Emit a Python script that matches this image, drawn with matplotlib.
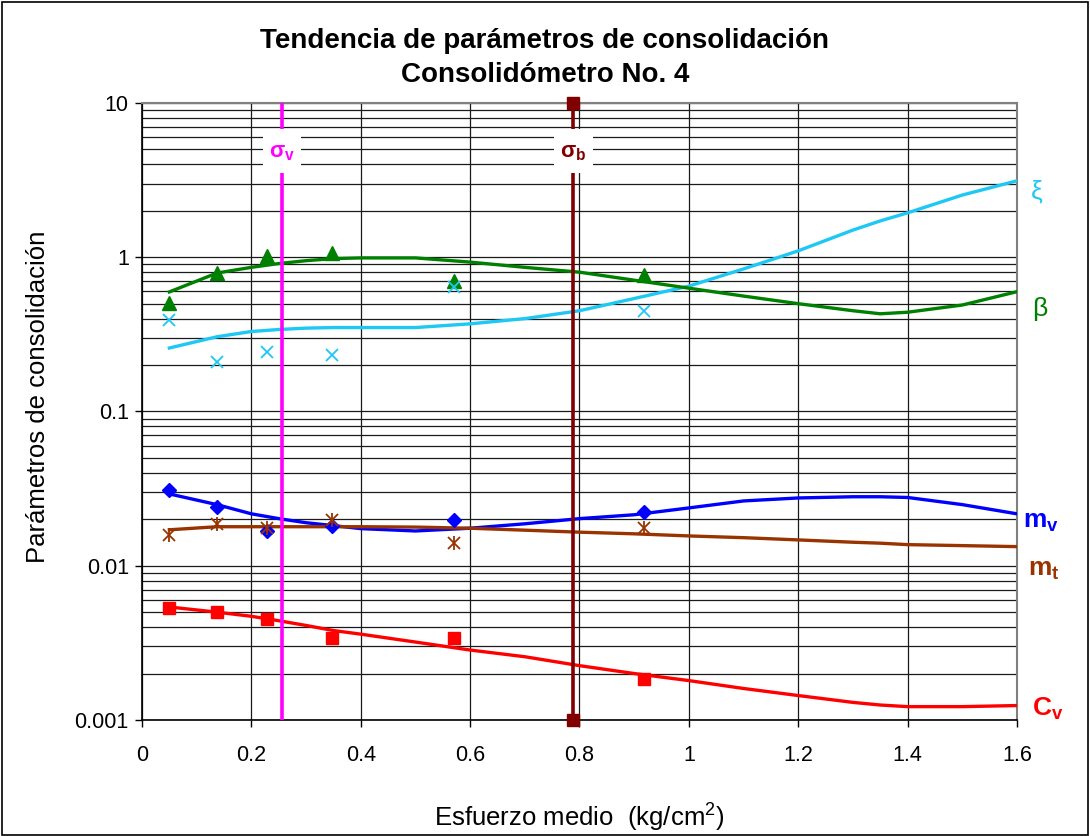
import matplotlib
matplotlib.use("Agg")
import matplotlib.pyplot as plt
from matplotlib.patches import Rectangle

plt.rcParams['font.family'] = ['Liberation Sans', 'DejaVu Sans']
plt.rcParams['mathtext.fontset'] = 'custom'
plt.rcParams['mathtext.rm'] = 'Liberation Sans'
plt.rcParams['mathtext.bf'] = 'Liberation Sans:bold'
plt.rcParams['mathtext.it'] = 'Liberation Sans:italic'

# ---- data ----
x_pts = [0.05, 0.137, 0.228, 0.347, 0.571, 0.918]
beta_pts = [0.505, 0.79, 1.02, 1.06, 0.70, 0.77]
xi_pts = [0.39, 0.21, 0.243, 0.232, 0.64, 0.45]
mv_pts = [0.031, 0.024, 0.0168, 0.0181, 0.0198, 0.0223]
mt_pts = [0.0158, 0.0187, 0.0175, 0.0198, 0.0140, 0.0175]
cv_pts = [0.0053, 0.0050, 0.0045, 0.0034, 0.0034, 0.00185]

x_fit = [0.05, 0.137, 0.2, 0.25, 0.3, 0.35, 0.4, 0.5, 0.6, 0.7, 0.8, 0.9,
         1.0, 1.1, 1.2, 1.3, 1.35, 1.4, 1.5, 1.6]
beta_fit = [0.596, 0.79, 0.86, 0.91, 0.95, 0.98, 0.99, 0.99, 0.93, 0.86, 0.80, 0.71,
            0.63, 0.56, 0.50, 0.45, 0.43, 0.44, 0.49, 0.598]
xi_fit = [0.258, 0.305, 0.33, 0.34, 0.347, 0.35, 0.35, 0.35, 0.37, 0.40, 0.45, 0.54,
          0.65, 0.84, 1.10, 1.50, 1.72, 1.94, 2.53, 3.13]
mv_fit = [0.0292, 0.0249, 0.0217, 0.0202, 0.0190, 0.0182, 0.0174, 0.0168, 0.0175, 0.0187,
          0.0202, 0.0214, 0.0237, 0.0263, 0.0275, 0.0280, 0.0280, 0.0277, 0.0249, 0.0217]
mt_fit = [0.0171, 0.0179, 0.0179, 0.0179, 0.0179, 0.0179, 0.0179, 0.0178, 0.0175, 0.0170,
          0.0165, 0.0161, 0.0156, 0.0152, 0.0147, 0.0142, 0.0140, 0.0137, 0.0135, 0.0133]
cv_fit = [0.0054, 0.0050, 0.0047, 0.0044, 0.0041, 0.0038, 0.0036, 0.0032, 0.00284, 0.00257,
          0.00225, 0.0020, 0.0018, 0.0016, 0.00144, 0.0013, 0.00125, 0.00122, 0.00122, 0.00124]

sigma_v = 0.256
sigma_b = 0.789

xticks = [0, 0.2, 0.4, 0.6, 0.8, 1, 1.2, 1.4, 1.6]
xticklabels = ['0', '0.2', '0.4', '0.6', '0.8', '1', '1.2', '1.4', '1.6']
yticks = [0.001, 0.01, 0.1, 1, 10]
yticklabels = ['0.001', '0.01', '0.1', '1', '10']

c_xi = '#1EC8F5'
c_beta = '#008000'
c_mv = '#0000FF'
c_mt = '#993300'
c_cv = '#FF0000'
c_sv = '#FF00FF'
c_sb = '#800000'

fig = plt.figure(figsize=(10.9, 8.36), dpi=100)
fig.patches.append(Rectangle((0.002, 0.001), 0.996, 0.997, transform=fig.transFigure,
                             fill=False, edgecolor='black', lw=1.2))
ax = fig.add_axes([0.1303, 0.1388, 0.933 - 0.1303, 0.8768 - 0.1388])
ax.set_yscale('log')
ax.set_xlim(0, 1.6)
ax.set_ylim(0.001, 10)

ax.grid(which='major', axis='both', color='#1a1a1a', lw=0.9)
ax.grid(which='minor', axis='y', color='#1a1a1a', lw=0.9)
ax.set_axisbelow(True)

lw = 2.4
ax.plot(x_fit, xi_fit, color=c_xi, lw=lw, zorder=3)
ax.plot(x_fit, beta_fit, color=c_beta, lw=lw, zorder=3)
ax.plot(x_fit, mv_fit, color=c_mv, lw=lw, zorder=3)
ax.plot(x_fit, mt_fit, color=c_mt, lw=lw, zorder=3)
ax.plot(x_fit, cv_fit, color=c_cv, lw=lw, zorder=3)

ax.plot(x_pts, beta_pts, ls='none', marker='^', ms=10, color=c_beta, zorder=4)
ax.plot(x_pts, xi_pts, ls='none', marker='x', ms=9, mew=1.3, color=c_xi, zorder=4)
ax.plot(x_pts, mv_pts, ls='none', marker='D', ms=7, color=c_mv, zorder=4)
ax.plot(x_pts, mt_pts, ls='none', marker='x', ms=9, mew=1.3, color=c_mt, zorder=4)
ax.plot(x_pts, mt_pts, ls='none', marker='|', ms=10, mew=1.3, color=c_mt, zorder=4)
ax.plot(x_pts, cv_pts, ls='none', marker='s', ms=8, color=c_cv, zorder=4)

ax.plot([sigma_v, sigma_v], [0.001, 10], color=c_sv, lw=2.6, zorder=5)
ax.plot([sigma_b, sigma_b], [0.001, 10], color=c_sb, lw=2.6, marker='s', ms=8,
        zorder=5, clip_on=False)

# white label boxes over the vertical lines
box_w = 0.07
box_lo, box_hi = 3.52, 6.78
for xs, txt, col in [(sigma_v, r'$\mathbf{\sigma}_\mathbf{v}$', c_sv),
                     (sigma_b, r'$\mathbf{\sigma}_\mathbf{b}$', c_sb)]:
    ax.add_patch(Rectangle((xs - box_w / 2, box_lo), box_w, box_hi - box_lo,
                           facecolor='white', edgecolor='none', zorder=6))
    ax.text(xs, 4.75, txt, color=col, fontsize=16, ha='center', va='center', zorder=7)

lab = dict(fontsize=19, ha='left', va='center', clip_on=False)
ax.text(1.625, 2.65, 'ξ', color=c_xi, **lab)
ax.text(1.628, 0.46, 'β', color=c_beta, **lab)
ax.text(1.611, 0.0192, r'$\mathbf{m}_\mathbf{v}$', color=c_mv, **lab)
ax.text(1.620, 0.0094, r'$\mathbf{m}_\mathbf{t}$', color=c_mt, **lab)
ax.text(1.627, 0.00118, r'$\mathbf{C}_\mathbf{v}$', color=c_cv, **lab)

ax.set_xticks(xticks)
ax.set_xticklabels(xticklabels)
ax.set_yticks(yticks)
ax.set_yticklabels(yticklabels)
ax.yaxis.set_minor_formatter(matplotlib.ticker.NullFormatter())
ax.tick_params(axis='both', which='major', labelsize=15.5, length=5, direction='out',
               width=1)
ax.tick_params(axis='y', pad=4.5)
ax.tick_params(axis='x', pad=13)
ax.tick_params(axis='y', which='minor', length=0)

for s in ['top', 'right']:
    ax.spines[s].set_color('#808080')
    ax.spines[s].set_linewidth(1.5)
for s in ['left', 'bottom']:
    ax.spines[s].set_color('black')
    ax.spines[s].set_linewidth(1.2)

ax.set_ylabel('Parámetros de consolidación', fontsize=18.5, va='center')
ax.yaxis.set_label_coords(-0.119, 0.5235)
ax.set_xlabel('Esfuerzo medio  (kg/cm$^2$)', fontsize=18.5, va='center')
ax.xaxis.set_label_coords(0.5, -0.158)
fig.text(0.5, 1 - 41 / 836, 'Tendencia de parámetros de consolidación', ha='center',
         va='center', fontsize=20, fontweight='bold')
fig.text(0.5, 1 - 75 / 836, 'Consolidómetro No. 4', ha='center', va='center',
         fontsize=20, fontweight='bold')

fig.savefig('out.png', dpi=100)
